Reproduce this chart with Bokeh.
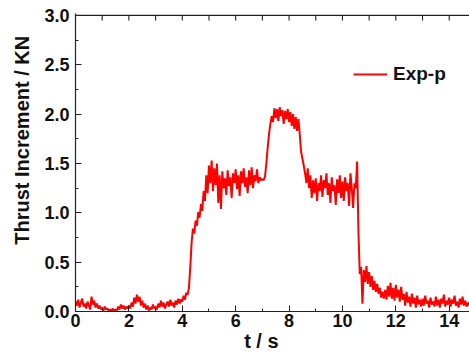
import numpy as np
from bokeh.plotting import figure
from bokeh.models import (Range1d, FixedTicker, Legend, LegendItem,
                          PrintfTickFormatter, Span)
from bokeh.embed import file_html
from bokeh.resources import INLINE

dt = 0.05
thrust = [
    # 0.00 - 0.95
    0.10,0.06,0.12,0.04,0.09,0.13,0.05,0.08,0.03,0.10,0.06,0.02,0.15,0.07,0.11,0.04,0.08,0.03,0.06,0.02,
    # 1.00 - 1.95
    0.04,0.01,0.05,0.02,0.03,0.00,0.02,0.01,0.03,0.00,0.02,0.01,0.05,0.02,0.07,0.03,0.06,0.02,0.05,0.03,
    # 2.00 - 2.95
    0.06,0.03,0.09,0.05,0.14,0.08,0.17,0.10,0.15,0.06,0.11,0.04,0.08,0.02,0.06,0.01,0.04,0.02,0.07,0.03,
    # 3.00 - 3.95
    0.05,0.02,0.08,0.04,0.11,0.05,0.09,0.03,0.07,0.10,0.05,0.12,0.06,0.09,0.04,0.11,0.07,0.13,0.08,0.12,
    # 4.00 - 4.95
    0.10,0.16,0.12,0.19,0.17,0.24,0.45,0.70,0.84,0.79,0.92,0.87,1.01,0.95,1.09,1.02,1.22,1.12,1.38,1.20,
    # 5.00 - 5.95
    1.48,1.30,1.53,1.22,1.45,1.28,1.50,1.10,1.38,1.04,1.42,1.25,1.35,1.18,1.43,1.27,1.36,1.15,1.40,1.30,
    # 6.00 - 6.95
    1.44,1.24,1.38,1.17,1.42,1.30,1.45,1.26,1.36,1.20,1.43,1.28,1.46,1.25,1.38,1.32,1.44,1.30,1.36,1.33,
    # 7.00 - 7.95
    1.34,1.33,1.37,1.50,1.66,1.80,1.90,1.98,1.92,2.06,1.96,2.05,1.93,2.07,1.98,2.04,1.90,2.03,1.95,2.05,
    # 8.00 - 8.95
    1.92,2.02,1.88,2.00,1.85,1.97,1.83,1.95,1.80,1.62,1.55,1.48,1.40,1.30,1.45,1.25,1.38,1.15,1.33,1.20,
    # 9.00 - 9.95
    1.35,1.12,1.30,1.22,1.38,1.16,1.33,1.25,1.40,1.18,1.30,1.10,1.36,1.22,1.28,1.08,1.34,1.20,1.38,1.15,
    # 10.00 - 10.95
    1.32,1.12,1.36,1.22,1.30,1.07,1.40,1.25,1.05,1.30,1.25,1.52,0.80,0.38,0.45,0.08,0.42,0.30,0.46,0.28,
    # 11.00 - 11.95
    0.40,0.25,0.36,0.22,0.31,0.20,0.28,0.18,0.24,0.14,0.20,0.13,0.22,0.12,0.26,0.15,0.29,0.13,0.24,0.11,
    # 12.00 - 12.95
    0.27,0.14,0.22,0.10,0.25,0.12,0.18,0.06,0.20,0.09,0.15,0.05,0.18,0.08,0.14,0.04,0.16,0.07,0.12,0.05,
    # 13.00 - 13.95
    0.13,0.06,0.16,0.08,0.11,0.04,0.14,0.07,0.10,0.05,0.15,0.06,0.12,0.04,0.13,0.08,0.17,0.05,0.11,0.07,
    # 14.00 - 14.75
    0.14,0.05,0.12,0.08,0.16,0.06,0.10,0.04,0.13,0.07,0.15,0.06,0.11,0.05,0.09,0.06,
]
time = [round(i * dt, 2) for i in range(len(thrust))]

x_ticks = [0, 2, 4, 6, 8, 10, 12, 14]
x_minor = [1, 3, 5, 7, 9, 11, 13]
top_ticks = [0, 1, 2, 3, 4, 5, 6, 7, 8, 9, 10, 11, 12, 13, 14]
y_ticks = [0.0, 0.5, 1.0, 1.5, 2.0, 2.5, 3.0]
y_minor = [0.25, 0.75, 1.25, 1.75, 2.25, 2.75]

FONT = "Liberation Sans"
INK = "#111111"
AXIS = "#222222"
NB = "\u00a0"

p = figure(width=469, height=354, output_backend="svg", toolbar_location=None,
           x_range=Range1d(0, 14.76), y_range=Range1d(0, 3.02),
           min_border_left=75, min_border_right=0, min_border_top=13, min_border_bottom=43)
p.outline_line_color = None
p.xgrid.visible = False
p.ygrid.visible = False
p.background_fill_color = "white"
p.border_fill_color = "white"

r = p.line(time, thrust, line_color="#ff0000", line_width=2)

def style(ax):
    ax.axis_line_color = AXIS
    ax.axis_line_width = 1.2
    ax.major_tick_line_color = AXIS
    ax.minor_tick_line_color = AXIS
    ax.major_tick_in = 6
    ax.major_tick_out = 0
    ax.minor_tick_in = 3
    ax.minor_tick_out = 0
    ax.major_label_text_font = FONT
    ax.major_label_text_font_style = "bold"
    ax.major_label_text_font_size = "18px"
    ax.major_label_text_color = INK
    ax.axis_label_text_font = FONT
    ax.axis_label_text_font_style = "bold"
    ax.axis_label_text_font_size = "20px"
    ax.axis_label_text_color = INK

xa = p.xaxis[0]
xa.ticker = FixedTicker(ticks=x_ticks, minor_ticks=x_minor)
xa.axis_label = "t / s" + NB * 4
xa.major_label_standoff = 2
xa.axis_label_standoff = 0
style(xa)

ya = p.yaxis[0]
ya.ticker = FixedTicker(ticks=y_ticks, minor_ticks=y_minor)
ya.formatter = PrintfTickFormatter(format="%.1f")
ya.axis_label = NB * 8 + "Thrust Increment / KN"
ya.major_label_standoff = 6
ya.axis_label_standoff = 8
style(ya)

# top spine at y = 3.0 with short inward tick marks
y_top = y_ticks[-1]
p.add_layout(Span(location=y_top, dimension="width", line_color=AXIS, line_width=1.3))
p.segment(x0=top_ticks, y0=[y_top] * len(top_ticks),
          x1=top_ticks, y1=[y_top - 0.05] * len(top_ticks),
          line_color=AXIS, line_width=1.1)

legend = Legend(items=[LegendItem(label="Exp-p", renderers=[r])],
                location=(278, 226), border_line_color=None,
                background_fill_alpha=0, padding=0, margin=0,
                glyph_width=34, glyph_height=22, label_standoff=6,
                label_text_font=FONT, label_text_font_style="bold",
                label_text_font_size="19px", label_text_color=INK)
p.add_layout(legend, "center")

open("out.html", "w").write(file_html(p, INLINE))
